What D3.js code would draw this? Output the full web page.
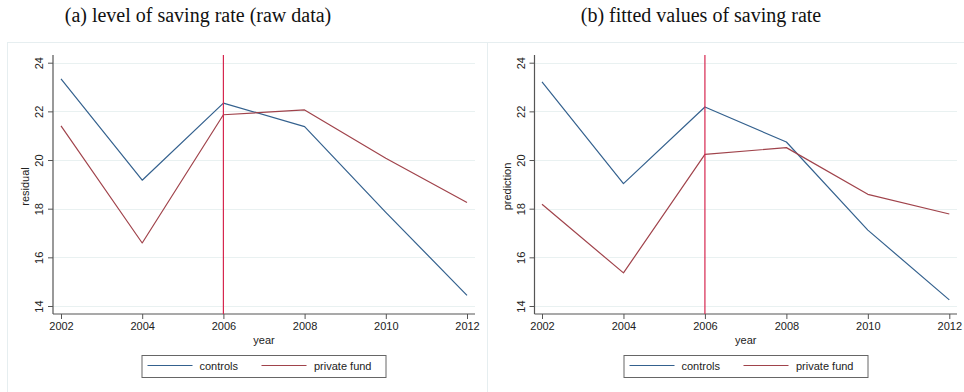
<!DOCTYPE html>
<html>
<head>
<meta charset="utf-8">
<script src="https://cdn.jsdelivr.net/npm/d3@7"></script>
<style>
  html, body { margin: 0; padding: 0; background: #ffffff; }
  svg { display: block; }
  text { font-family: "Liberation Sans", Arial, sans-serif; fill: #222; }
  .title { font-family: "Liberation Serif", "Times New Roman", serif; font-size: 20px; fill: #111; }
</style>
</head>
<body>
<svg id="chart" width="964" height="392"></svg>
<script>
// Survey years shared by both panels
const years = [2002, 2004, 2006, 2008, 2010, 2012];
const yTicks = [14, 16, 18, 20, 22, 24];
const treatmentYear = 2006;

// Panel (a): raw saving rate by group
const rawControls    = [23.34, 19.17, 22.34, 21.37, 17.85, 14.44];
const rawPrivateFund = [21.40, 16.59, 21.86, 22.06, 20.07, 18.25];

// Panel (b): fitted saving rate by group
const fitControls    = [23.21, 19.03, 22.18, 20.74, 17.12, 14.25];
const fitPrivateFund = [18.18, 15.36, 20.23, 20.51, 18.59, 17.78];

const seriesNames = ["controls", "private fund"];
const seriesColors = ["#34618e", "#a0434b"];
const vlineColor = "#d6274f";

const svg = d3.select("#chart");

const panels = [
  { title: "(a) level of saving rate (raw data)", yLabel: "residual",
    series: [rawControls, rawPrivateFund],
    box: [7, 42.5, 487, 400], plotLeft: 53, plotRight: 475, x0: 61, x1: 467,
    titleX: 198, legendX: 141.5 },
  { title: "(b) fitted values of saving rate", yLabel: "prediction",
    series: [fitControls, fitPrivateFund],
    box: [487, 42.5, 970, 400], plotLeft: 534.5, plotRight: 957, x0: 542, x1: 949.3,
    titleX: 701, legendX: 623.5 }
];

const plotTop = 55, plotBottom = 314;

panels.forEach(p => {
  const g = svg.append("g");

  // panel frame
  g.append("rect")
    .attr("x", p.box[0] + 0.5).attr("y", p.box[1])
    .attr("width", p.box[2] - p.box[0]).attr("height", p.box[3] - p.box[1])
    .attr("fill", "none").attr("stroke", "#e6eef0").attr("stroke-width", 1);

  g.append("text").attr("class", "title")
    .attr("x", p.titleX).attr("y", 22)
    .attr("text-anchor", "middle").text(p.title);

  const x = d3.scaleLinear().domain([2002, 2012]).range([p.x0, p.x1]);
  const y = d3.scaleLinear().domain([14, 24]).range([306, 62.7]);

  // horizontal gridlines
  g.append("g").selectAll("line").data(yTicks).join("line")
    .attr("x1", p.plotLeft).attr("x2", p.plotRight)
    .attr("y1", d => Math.round(y(d)) + 0.5).attr("y2", d => Math.round(y(d)) + 0.5)
    .attr("stroke", "#e9f1f1").attr("stroke-width", 1.2);

  // y axis
  const yAxis = g.append("g")
    .attr("transform", `translate(${p.plotLeft},0)`)
    .call(d3.axisLeft(y).tickValues(yTicks).tickSize(5).tickPadding(4));
  yAxis.select(".domain").remove();
  yAxis.selectAll(".tick line").attr("stroke", "#555");
  yAxis.selectAll(".tick text")
    .attr("font-size", 11).attr("font-family", "Liberation Sans, Arial, sans-serif")
    .attr("fill", "#222")
    .attr("x", null).attr("dy", null)
    .attr("text-anchor", "middle")
    .attr("transform", "translate(-14,0) rotate(-90)")
    .attr("dominant-baseline", "central");
  g.append("line")
    .attr("x1", p.plotLeft).attr("x2", p.plotLeft)
    .attr("y1", plotTop).attr("y2", plotBottom)
    .attr("stroke", "#555").attr("stroke-width", 1.2);

  // x axis
  const xAxis = g.append("g")
    .attr("transform", `translate(0,${plotBottom})`)
    .call(d3.axisBottom(x).tickValues(years).tickFormat(d3.format("d")).tickSize(5).tickPadding(3));
  xAxis.select(".domain").remove();
  xAxis.selectAll(".tick line").attr("stroke", "#555");
  xAxis.selectAll(".tick text")
    .attr("font-size", 11).attr("font-family", "Liberation Sans, Arial, sans-serif")
    .attr("fill", "#222");
  g.append("line")
    .attr("x1", p.plotLeft).attr("x2", p.plotRight)
    .attr("y1", plotBottom).attr("y2", plotBottom)
    .attr("stroke", "#555").attr("stroke-width", 1.2);

  // axis titles
  g.append("text")
    .attr("transform", `translate(${p.plotLeft - 28},${(plotTop + plotBottom) / 2 + 2}) rotate(-90)`)
    .attr("text-anchor", "middle").attr("dominant-baseline", "central")
    .attr("font-size", 11).text(p.yLabel);
  g.append("text")
    .attr("x", (p.plotLeft + p.plotRight) / 2).attr("y", 344)
    .attr("text-anchor", "middle").attr("font-size", 11).text("year");

  // series lines
  const line = d3.line().x((d, i) => x(years[i])).y(d => y(d));
  p.series.forEach((vals, k) => {
    g.append("path").datum(vals)
      .attr("d", line)
      .attr("fill", "none")
      .attr("stroke", seriesColors[k])
      .attr("stroke-width", 1.2)
      .attr("stroke-linejoin", "round");
  });

  // reform year marker
  g.append("line")
    .attr("x1", x(treatmentYear)).attr("x2", x(treatmentYear))
    .attr("y1", plotTop).attr("y2", plotBottom)
    .attr("stroke", vlineColor).attr("stroke-width", 1.2);

  // legend
  const lg = g.append("g").attr("transform", `translate(${p.legendX},355)`);
  lg.append("rect").attr("x", 0.5).attr("y", 0.5)
    .attr("width", 244).attr("height", 22)
    .attr("fill", "#fff").attr("stroke", "#666").attr("stroke-width", 1);
  const items = [{ lx: 6, tx: 58 }, { lx: 120, tx: 172.5 }];
  items.forEach((it, k) => {
    lg.append("line")
      .attr("x1", it.lx).attr("x2", it.lx + 45)
      .attr("y1", 10.5).attr("y2", 10.5)
      .attr("stroke", seriesColors[k]).attr("stroke-width", 1.2);
    lg.append("text")
      .attr("x", it.tx).attr("y", 10.5)
      .attr("dominant-baseline", "central")
      .attr("font-size", 11).text(seriesNames[k]);
  });
});
</script>
</body>
</html>
